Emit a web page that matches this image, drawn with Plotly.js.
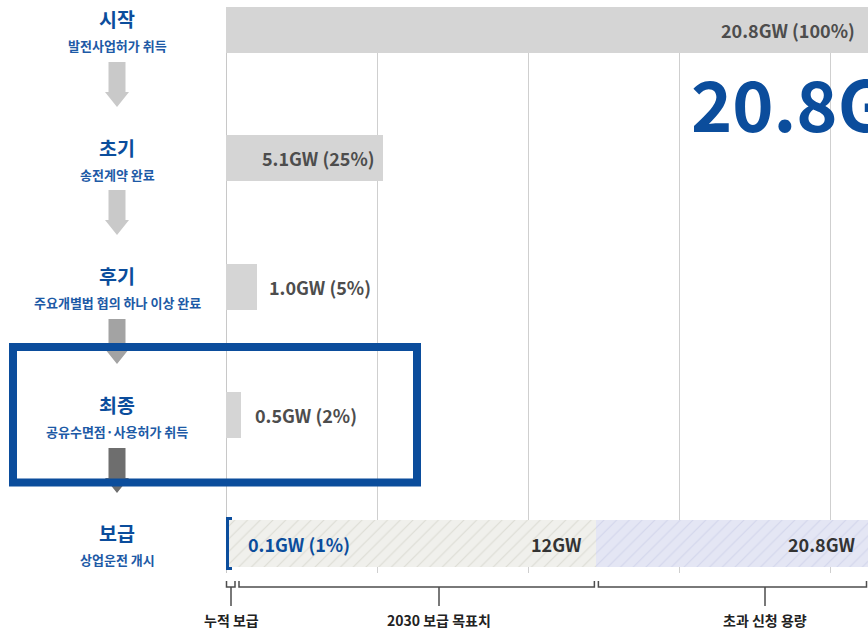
<!DOCTYPE html>
<html>
<head>
<meta charset="utf-8">
<script src="https://cdn.plot.ly/plotly-3.0.1.min.js"></script>
<style>html,body{margin:0;padding:0;background:#fff;}#chart{width:868px;height:630px;}</style>
</head>
<body>
<div id="chart"></div>
<script>
// ---- data ----
const stages = ['시작', '초기', '후기', '최종', '보급'];
const stageNotes = ['발전사업허가 취득', '송전계약 완료', '주요개별법 협의 하나 이상 완료', '공유수면점·사용허가 취득', '상업운전 개시'];
const pipelineStages = ['시작', '초기', '후기', '최종'];
const pipelineGW = [20.8, 5.1, 1.0, 0.5];
const pipelinePct = [100, 25, 5, 2];
const cumulativeGW = 0.1;
const cumulativePct = 1;
const target2030GW = 12;
const appliedGW = 20.8;
const bracketLabels = ['누적 보급', '2030 보급 목표치', '초과 신청 용량'];
const bigCallout = '20.8GW';

// ---- layout helpers ----
const FONT = '"Noto Sans CJK KR", "Noto Sans", sans-serif';
const ML = 226, MT = 7, MB = 57, W = 868, H = 630;
const PW = W - ML, PH = H - MT - MB;
const xMax = appliedGW;
const px = x => (x - ML) / PW;
const py = y => (H - MB - y) / PH;
const xpx = v => ML + v * PW / xMax;
const BLUE = '#0b4d9c';

const traces = [
  {
    type: 'bar', orientation: 'h', y: pipelineStages, x: pipelineGW, width: 0.36,
    marker: {color: '#d5d5d5'}, hoverinfo: 'skip', showlegend: false
  },
  {
    type: 'bar', orientation: 'h', y: ['보급'], x: [cumulativeGW], width: 0.36,
    marker: {color: BLUE, line: {color: BLUE, width: 6}}, hoverinfo: 'skip', showlegend: false
  },
  {
    type: 'bar', orientation: 'h', y: ['보급'], x: [target2030GW - cumulativeGW], width: 0.36,
    marker: {color: '#f0f0ec', pattern: {shape: '/', bgcolor: '#f0f0ec', fgcolor: '#dcdcd4', size: 9, solidity: 0.12}},
    hoverinfo: 'skip', showlegend: false
  },
  {
    type: 'bar', orientation: 'h', y: ['보급'], x: [appliedGW - target2030GW], width: 0.36,
    marker: {color: '#e4e6f4', pattern: {shape: '/', bgcolor: '#e4e6f4', fgcolor: '#d2d6ec', size: 9, solidity: 0.12}},
    hoverinfo: 'skip', showlegend: false
  }
];

const annotations = [];
// stage labels
stages.forEach((s, i) => {
  annotations.push({xref: 'paper', yref: 'y', x: px(117), y: s, xanchor: 'center', yanchor: 'middle',
    yshift: 11, text: '<b>' + s + '</b>', showarrow: false, font: {family: FONT, size: 19.5, color: BLUE}});
  annotations.push({xref: 'paper', yref: 'y', x: px(117), y: s, xanchor: 'center', yanchor: 'middle',
    yshift: -16, text: '<b>' + stageNotes[i] + '</b>', showarrow: false, font: {family: FONT, size: 13, color: '#1d5aa6'}});
});
// value labels
pipelineGW.forEach((v, i) => {
  const inside = v / appliedGW > 0.2;
  annotations.push({xref: 'x', yref: 'y', x: v, y: pipelineStages[i],
    xanchor: inside ? 'right' : 'left', xshift: inside ? (i === 0 ? -11 : -6) : (i === 2 ? 10 : 12),
    yanchor: 'middle', showarrow: false,
    text: '<b>' + v.toFixed(1) + 'GW (' + pipelinePct[i] + '%)</b>',
    font: {family: FONT, size: 18, color: '#4d4d4d'}});
});
annotations.push({xref: 'x', yref: 'y', x: cumulativeGW, y: '보급', xanchor: 'left', xshift: 17, yanchor: 'middle',
  showarrow: false, text: '<b>' + cumulativeGW.toFixed(1) + 'GW (' + cumulativePct + '%)</b>',
  font: {family: FONT, size: 18, color: BLUE}});
annotations.push({xref: 'x', yref: 'y', x: target2030GW, y: '보급', xanchor: 'right', xshift: -12, yanchor: 'middle',
  showarrow: false, text: '<b>' + target2030GW + 'GW</b>', font: {family: FONT, size: 18, color: '#333'}});
annotations.push({xref: 'x', yref: 'y', x: appliedGW, y: '보급', xanchor: 'right', xshift: -11, yanchor: 'middle',
  showarrow: false, text: '<b>' + appliedGW.toFixed(1) + 'GW</b>', font: {family: FONT, size: 18, color: '#333'}});
// big callout
annotations.push({xref: 'paper', yref: 'paper', x: px(689), y: py(102), xanchor: 'left', yanchor: 'middle',
  showarrow: false, text: '<b>' + bigCallout + '</b>', font: {family: FONT, size: 70, color: BLUE}});
// bracket labels
const tickX = [231, 439, 765];
bracketLabels.forEach((t, i) => {
  annotations.push({xref: 'paper', yref: 'paper', x: px(tickX[i]), y: py(620), xanchor: 'center', yanchor: 'middle',
    showarrow: false, text: '<b>' + t + '</b>', font: {family: FONT, size: 14, color: '#222'}});
});

// shapes
const shapes = [];
function arrow(cx, top, color) {
  const hs = top + 30, tip = top + 45;
  const pts = [[cx - 8.5, top], [cx + 8.5, top], [cx + 8.5, hs], [cx + 12, hs], [cx, tip], [cx - 12, hs], [cx - 8.5, hs]];
  const path = 'M' + pts.map(p => px(p[0]) + ',' + py(p[1])).join(' L') + ' Z';
  shapes.push({type: 'path', xref: 'paper', yref: 'paper', path: path, fillcolor: color, line: {width: 0}, layer: 'above'});
}
arrow(117, 62, '#c9c9c9');
arrow(117, 190, '#c9c9c9');
arrow(117, 319, '#a3a3a3');
arrow(117, 448, '#6e6e6e');
// highlight box
shapes.push({type: 'rect', xref: 'paper', yref: 'paper', x0: px(13), x1: px(417), y0: py(347), y1: py(482.5),
  line: {color: BLUE, width: 8}, fillcolor: 'rgba(0,0,0,0)', layer: 'above'});
// brackets
function bracket(x0, x1, tx) {
  const path = 'M' + px(x0) + ',' + py(581) + ' L' + px(x0) + ',' + py(587) + ' L' + px(x1) + ',' + py(587) + ' L' + px(x1) + ',' + py(581);
  shapes.push({type: 'path', xref: 'paper', yref: 'paper', path: path, line: {color: '#4d4d4d', width: 1.5}});
  shapes.push({type: 'line', xref: 'paper', yref: 'paper', x0: px(tx), x1: px(tx), y0: py(587), y1: py(606),
    line: {color: '#4d4d4d', width: 1.5}});
}
bracket(226.5, 235, tickX[0]);
bracket(239, xpx(target2030GW) - 2, tickX[1]);
bracket(xpx(target2030GW) + 2, 866.5, tickX[2]);

const layout = {
  width: W, height: H,
  margin: {l: ML, r: 0, t: MT, b: MB, pad: 0},
  paper_bgcolor: '#fff', plot_bgcolor: '#fff',
  barmode: 'stack', bargap: 0,
  showlegend: false,
  xaxis: {range: [0, xMax], showticklabels: false, ticks: '', showgrid: true, gridcolor: '#cfcfcf', gridwidth: 1,
    tick0: 0, dtick: 4.9, zeroline: true, zerolinecolor: '#c8c8c8', zerolinewidth: 1, showline: false, fixedrange: true},
  yaxis: {type: 'category', categoryorder: 'array', categoryarray: stages, range: [4.2298, -0.179], autorange: false,
    showticklabels: false, ticks: '', showgrid: false, zeroline: false, showline: false, fixedrange: true},
  annotations: annotations,
  shapes: shapes,
  font: {family: FONT}
};

Plotly.newPlot('chart', traces, layout, {staticPlot: true, displayModeBar: false});
</script>
</body>
</html>
